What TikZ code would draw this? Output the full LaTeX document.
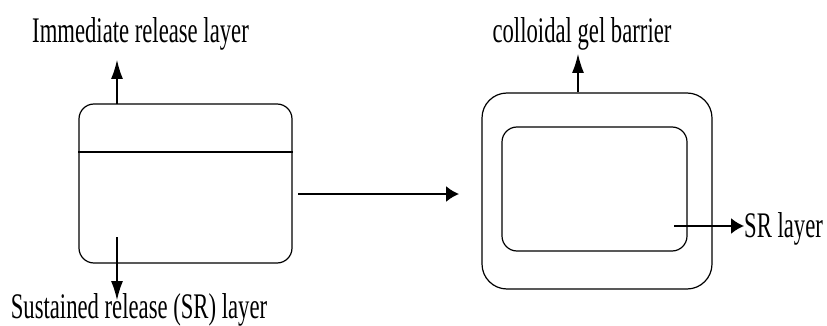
\documentclass[tikz,border=0pt]{standalone}
\usepackage{fontspec}
\setmainfont[FakeStretch=0.63]{Liberation Serif}
\usetikzlibrary{arrows.meta,positioning,calc}

\begin{document}
\begin{tikzpicture}[x=1pt,y=-1pt,
  box/.style={draw,line width=1.2pt,rounded corners=#1,inner sep=0pt},
  lbl/.style={font=\fontsize{36}{40}\selectfont,inner sep=0pt,anchor=base},
  vpointer/.style={-{Latex[length=19pt,width=12pt]},line width=1.2pt},
  hpointer/.style={-{Latex[length=13pt,width=16pt]},line width=1.8pt}]
\useasboundingbox (0,0) rectangle (827,326);
% tablet before
\node[box=15pt,minimum width=213pt,minimum height=159pt] (tab) at (185.5,183.5) {};
\draw[line width=1.2pt] (tab.west |- 0,152) -- (tab.east |- 0,152);
\node[lbl] (immlbl) at (140.5,43) {Immediate release layer};
\node[lbl] (srlbl) at (139,318) {Sustained release (SR) layer};
\coordinate (immpt) at (117,104);
\coordinate (srpt) at (117,237);
\draw[vpointer] (immpt) -- (117,60);
\draw[vpointer] (srpt) -- (117,300);
% swelling
\coordinate (from) at (298,194);
\coordinate (to) at (459,194);
\draw[hpointer] (from) -- (to);
% hydrated tablet
\node[box=25pt,minimum width=230pt,minimum height=196pt] (outer) at (597,191) {};
\node[box=15pt,minimum width=185pt,minimum height=124pt] (inner) at (594.5,189) {};
\node[lbl] (gellbl) at (582,43) {colloidal gel barrier};
\node[lbl,anchor=base west] (corelbl) at (744,237) {SR layer};
\draw[vpointer] (outer.north -| 578,0) -- (578,54);
\draw[hpointer] (674,226) -- (corelbl.west |- 0,226);
\end{tikzpicture}
\end{document}
